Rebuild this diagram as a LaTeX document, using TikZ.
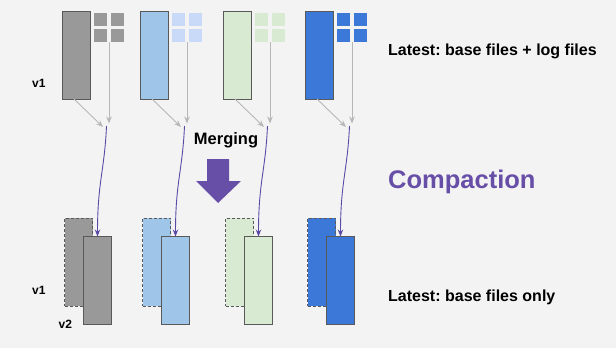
\documentclass[tikz,border=0pt]{standalone}
\usepackage{fontspec}
\setmainfont{Liberation Sans}
\usetikzlibrary{arrows.meta}
\frenchspacing
\definecolor{bg}{HTML}{F3F3F3}
\definecolor{edge}{HTML}{595959}
\definecolor{cgray}{HTML}{999999}
\definecolor{ggray}{HTML}{999999}
\definecolor{cblue}{HTML}{9FC5E8}
\definecolor{gblue}{HTML}{C9DAF8}
\definecolor{cgreen}{HTML}{D9EAD3}
\definecolor{ggreen}{HTML}{D9EAD3}
\definecolor{cdblue}{HTML}{3C78D8}
\definecolor{gdblue}{HTML}{3C78D8}
\definecolor{purp}{HTML}{674EA7}
\definecolor{purpline}{HTML}{5A4AA6}
\definecolor{garrow}{HTML}{B7B7B7}
\begin{document}
\begin{tikzpicture}[x=1pt,y=-1pt,
  basebox/.style={draw=edge, line width=0.9pt, minimum width=28pt, minimum height=88pt, inner sep=0pt, outer sep=0pt, anchor=north west},
  oldbox/.style={basebox, dash pattern=on 3pt off 2pt},
  grayarrow/.style={draw=garrow, line width=0.9pt, -{Stealth[length=7pt,width=5.5pt]}},
  purparrow/.style={draw=purpline, line width=0.9pt, -{Stealth[length=7pt,width=5.5pt]}},
  lbl/.style={anchor=base west, inner sep=0pt, font=\bfseries\fontsize{16}{18}\selectfont},
  vlbl/.style={anchor=base west, inner sep=0pt, font=\bfseries\fontsize{12}{14}\selectfont}]
\fill[bg] (0,0) rectangle (616,348);
\useasboundingbox (0,0) rectangle (616,348);
\foreach \i/\L/\fc/\gc in {1/62/cgray/ggray, 2/140/cblue/gblue, 3/223/cgreen/ggreen, 4/305/cdblue/gdblue}{
  % top: base file and log files
  \node[basebox, fill=\fc] (b\i) at (\L,11) {};
  \fill[\gc] (\L+32,13) rectangle ++(13,13);
  \fill[\gc] (\L+48.5,13) rectangle ++(13,13);
  \fill[\gc] (\L+32,29) rectangle ++(13,13);
  \fill[\gc] (\L+48.5,29) rectangle ++(13,13);
  \coordinate (g\i) at (\L+47,42);
  \coordinate (t\i) at (\L+47,123.5);
  \coordinate (u\i) at (\L+41,127);
  \coordinate (m\i) at (\L+44.5,126);
  \draw[grayarrow] (g\i) -- (t\i);
  \draw[grayarrow] ([xshift=12pt]b\i.south west) -- (u\i);
  % bottom: old version and compacted version
  \node[oldbox, fill=\fc] (d\i) at (\L+2.5,218) {};
  \node[basebox, fill=\fc] (s\i) at (\L+21.5,236.5) {};
  \draw[purparrow] (m\i) .. controls +(-2,45) and +(0,-55) .. (s\i.north);
}
% merging arrow
\node[anchor=base, inner sep=0pt, font=\bfseries\fontsize{16.5}{18}\selectfont] (merge) at (226,144.3) {Merging};
\fill[purp] (207,159) -- (229,159) -- (229,181) -- (241,181) -- (218,203) -- (196,181) -- (207,181) -- cycle;
% labels
\node[lbl] (lt) at (388,55.5) {Latest: base files + log files};
\node[lbl] (lb) at (388,301.7) {Latest: base files only};
\node[anchor=base west, inner sep=0pt, text=purp, font=\bfseries\fontsize{25.5}{28}\selectfont] (comp) at (388,188) {Compaction};
\node[vlbl] (v1a) at (32,87.5) {v1};
\node[vlbl] (v1b) at (32,294) {v1};
\node[vlbl] (v2) at (58.5,328) {v2};
\end{tikzpicture}
\end{document}
